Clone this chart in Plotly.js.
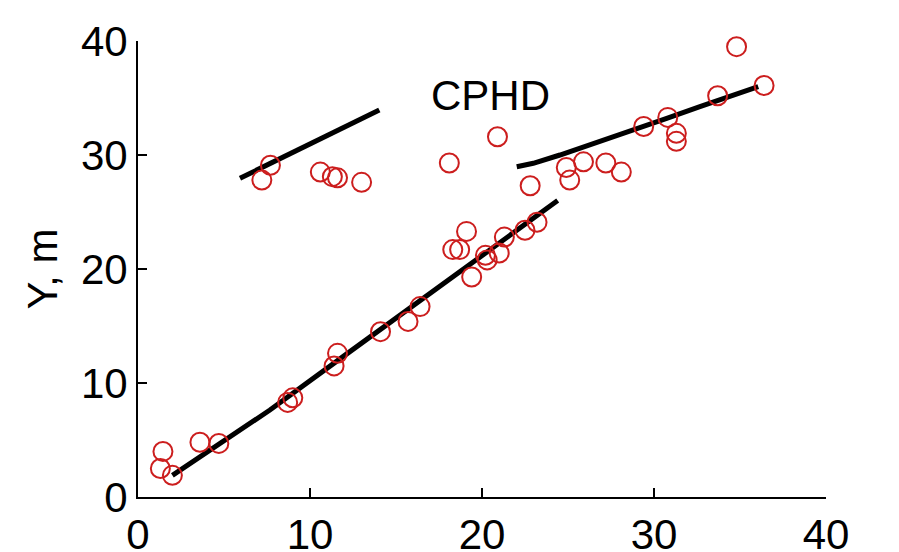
<!DOCTYPE html>
<html>
<head>
<meta charset="utf-8">
<script src="https://cdn.plot.ly/plotly-3.0.1.min.js"></script>
<style>html,body{margin:0;padding:0;background:#fff;}#chart{width:899px;height:552px;}</style>
</head>
<body>
<div id="chart"></div>
<script>
// Measured points (red open circles)
const pointsX = [1.45, 1.3, 2.0, 3.6, 4.7, 8.7, 9.0, 11.6, 11.4, 14.1, 15.7, 16.4,
  18.3, 18.7, 19.1, 19.4, 20.2, 20.3, 21.0, 21.3, 22.5, 23.2,
  7.2, 7.7, 10.6, 11.3, 11.6, 13.0, 18.1, 20.9, 22.8,
  24.9, 25.1, 25.9, 27.2, 28.1, 29.4, 30.8, 31.3, 31.3, 33.7, 34.8, 36.4];
const pointsY = [4.0, 2.5, 1.9, 4.8, 4.7, 8.3, 8.7, 12.6, 11.5, 14.5, 15.4, 16.7,
  21.7, 21.7, 23.3, 19.3, 21.2, 20.8, 21.4, 22.8, 23.4, 24.1,
  27.8, 29.1, 28.5, 28.1, 28.0, 27.6, 29.3, 31.6, 27.3,
  28.9, 27.8, 29.4, 29.3, 28.5, 32.5, 33.3, 31.9, 31.2, 35.2, 39.5, 36.1];

// Estimated tracks (thick black lines)
const trackAX = [5.93, 10.0, 14.03];
const trackAY = [27.96, 31.0, 33.95];
const trackBX = [22.02, 22.98, 24.53, 26.86, 29.19, 30.74, 32.67, 34.61, 36.06];
const trackBY = [28.97, 29.27, 30.0, 31.17, 32.43, 33.22, 34.24, 35.26, 35.99];
const trackCX = [2.0, 7.67, 12.0, 16.98, 24.4];
const trackCY = [1.9, 7.63, 12.4, 17.87, 26.0];

const tickVals = [0, 10, 20, 30, 40];
const tickText = ['0', '10', '20', '30', '40'];
const labelText = 'CPHD';
const yTitle = 'Y, m';

const FONT = 'Arial, "Liberation Sans", sans-serif';
const lineStyle = {color: '#000000', width: 5};

const traces = [
  {x: trackAX, y: trackAY, mode: 'lines', line: lineStyle, hoverinfo: 'skip', cliponaxis: false},
  {x: trackBX, y: trackBY, mode: 'lines', line: lineStyle, hoverinfo: 'skip', cliponaxis: false},
  {x: trackCX, y: trackCY, mode: 'lines', line: lineStyle, hoverinfo: 'skip', cliponaxis: false},
  {x: pointsX, y: pointsY, mode: 'markers', cliponaxis: false,
   marker: {symbol: 'circle-open', size: 19, color: '#cc1e1e', line: {width: 2, color: '#cc1e1e'}}}
];

const axisBase = {
  range: [0, 40], tickvals: tickVals, ticktext: tickText,
  showline: true, linecolor: '#000', linewidth: 2,
  ticks: 'inside', ticklen: 9, tickwidth: 2, tickcolor: '#000',
  showgrid: false, zeroline: false, mirror: false,
  tickfont: {family: FONT, size: 42, color: '#000'}
};

const layout = {
  width: 899, height: 552,
  margin: {l: 138, r: 73, t: 41, b: 55},
  paper_bgcolor: '#fff', plot_bgcolor: '#fff',
  showlegend: false,
  font: {family: FONT, color: '#000'},
  xaxis: Object.assign({}, axisBase),
  yaxis: Object.assign({}, axisBase, {
    title: {text: yTitle, font: {family: FONT, size: 42, color: '#000'}, standoff: 10}
  }),
  annotations: [{
    text: labelText, x: 20.47, y: 35.26, xref: 'x', yref: 'y', showarrow: false,
    font: {family: FONT, size: 42, color: '#000'}, xanchor: 'center', yanchor: 'middle'
  }]
};

Plotly.newPlot('chart', traces, layout, {staticPlot: true, displayModeBar: false});
</script>
</body>
</html>
